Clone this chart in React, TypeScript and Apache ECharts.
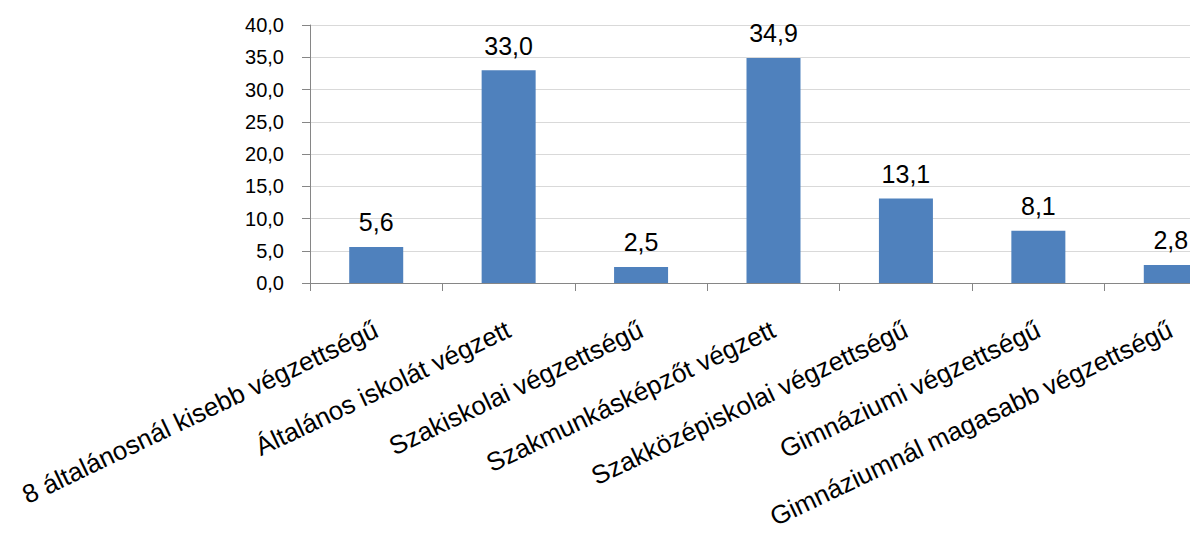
import React, { useEffect, useRef } from "react";
import * as echarts from "echarts";

const categories = [
  "8 általánosnál kisebb végzettségű",
  "Általános iskolát végzett",
  "Szakiskolai végzettségű",
  "Szakmunkásképzőt végzett",
  "Szakközépiskolai végzettségű",
  "Gimnáziumi végzettségű",
  "Gimnáziumnál magasabb végzettségű",
];
const values = [5.6, 33.0, 2.5, 34.9, 13.1, 8.1, 2.8];
const yMin = 0;
const yMax = 40;
const yStep = 5;

const FONT = "'Liberation Sans', Arial, sans-serif";
const fmt = (v: number) => v.toFixed(1).replace(".", ",");

export default function App() {
  const ref = useRef<HTMLDivElement>(null);
  useEffect(() => {
    if (!ref.current) return;
    const chart = echarts.init(ref.current, undefined, { renderer: "svg" });
    chart.setOption({
      animation: false,
      backgroundColor: "#ffffff",
      grid: {
        left: 310,
        top: 25,
        bottom: 252,
        right: -47,
        containLabel: false,
        outerBoundsMode: "none",
      },
      xAxis: {
        type: "category",
        data: categories,
        axisLine: { show: true, lineStyle: { color: "#868686", width: 1 } },
        axisTick: { show: true, alignWithLabel: false, length: 8, lineStyle: { color: "#868686" } },
        axisLabel: {
          interval: 0,
          rotate: 25.5,
          margin: 45,
          color: "#000000",
          fontFamily: FONT,
          fontSize: 26,
        },
        splitLine: { show: false },
      },
      yAxis: {
        type: "value",
        min: yMin,
        max: yMax,
        interval: yStep,
        axisLine: { show: true, lineStyle: { color: "#868686", width: 1 } },
        axisTick: { show: true, length: 8, lineStyle: { color: "#868686" } },
        axisLabel: {
          margin: 26,
          color: "#000000",
          fontFamily: FONT,
          fontSize: 20,
          formatter: (v: number) => fmt(v),
        },
        splitLine: { show: true, lineStyle: { color: "#D9D9D9", width: 1 } },
      },
      series: [
        {
          type: "bar",
          data: values,
          barWidth: 54,
          itemStyle: { color: "#4F81BD" },
          label: {
            show: true,
            position: "top",
            distance: 12,
            color: "#000000",
            fontFamily: FONT,
            fontSize: 25,
            formatter: (p: any) => fmt(p.value),
          },
        },
      ],
    });
    return () => chart.dispose();
  }, []);
  return (
    <div
      ref={ref}
      style={{ position: "absolute", left: 0, top: 0, width: 1190, height: 535, background: "#fff" }}
    />
  );
}
